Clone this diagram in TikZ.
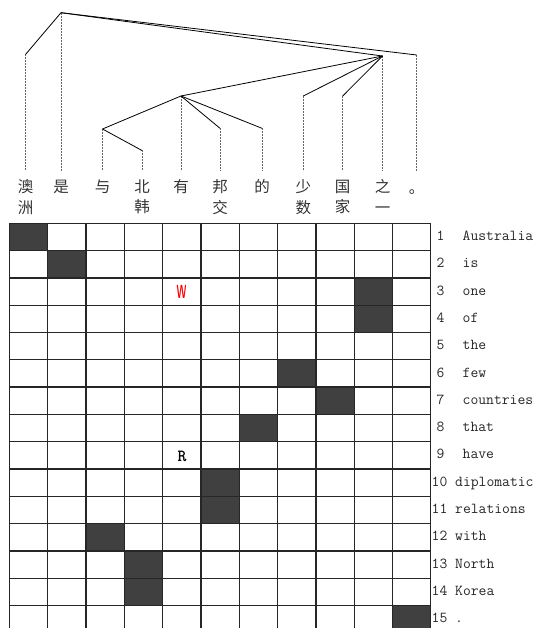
\documentclass[tikz,border=0pt]{standalone}
\usepackage{fontspec}
\newfontfamily\cjk{Noto Sans CJK SC}
\begin{document}
\begin{tikzpicture}[x=1pt, y=-1pt,
    tie/.style={black, line width=0.8pt},
    lead/.style={black!60, line width=0.8pt, dash pattern=on 2pt off 1pt},
    hanzi/.style={anchor=north, inner sep=0pt, align=center, text=black!80,
                  font=\cjk\fontsize{15.5}{20.3}\selectfont},
    rule/.style={black!85, line width=1.3pt},
    dark/.style={fill=black!75, minimum width=38.3pt, minimum height=27.3pt,
                 inner sep=0pt},
    lbl/.style={anchor=base west, inner sep=0pt, text=black!85,
                font=\ttfamily\fontsize{15.2}{18}\selectfont},
    letter/.style={inner sep=0pt}
]
\clip (0,0) rectangle (544,628);

\foreach \n/\x/\y/\w in {ao/25.5/54.5/澳\\洲, shi/61/12.7/是, yu/102.5/129/与,
    bei/142/150.5/北\\韩, you/181/96/有, bang/220/128.3/邦\\交, de/262/128.3/的,
    shao/303.3/96/少\\数, guo/342.7/96/国\\家, zhi/382.5/56/之\\一}{
  \coordinate (t-\n) at (\x,\y);
  \coordinate (b-\n) at (\x,171);
  \draw[lead] (t-\n) -- (b-\n);
  \node[hanzi] (w-\n) at (\x,179.5) {\w};
}
\coordinate (t-ju) at (416.7,55);
\coordinate (b-ju) at (416.7,171);
\draw[lead] (t-ju) -- (b-ju);
\node[hanzi] (w-ju) at (416.7,190) {。};

\draw[tie] (t-ao) -- (t-shi) -- (t-ju);
\draw[tie] (t-shi) -- (t-zhi);
\foreach \k in {you, shao, guo} \draw[tie] (t-zhi) -- (t-\k);
\foreach \k in {yu, bang, de} \draw[tie] (t-you) -- (t-\k);
\draw[tie] (t-yu) -- (t-bei);

\foreach \r/\c in {1/1, 2/2, 3/10, 4/10, 6/8, 7/9, 8/7, 10/6, 11/6,
                   12/3, 13/4, 14/4, 15/11}
  \node[dark] (s-\r-\c) at ({9.5+38.3*(\c-0.5)},{223.3+27.3*(\r-0.5)}) {};
\foreach \c in {0,...,11}
  \draw[rule] ({9.5+38.3*\c},223.3) -- ({9.5+38.3*\c},632.8);
\foreach \r in {0,...,15}
  \draw[rule] (9.5,{223.3+27.3*\r}) -- (430.8,{223.3+27.3*\r});

\node[letter, text=red, font=\sffamily\bfseries\fontsize{19}{20}\selectfont,
      xscale=0.5] (w-letter) at (181.5,291.6) {W};
\node[letter, font=\ttfamily\bfseries\fontsize{17}{18}\selectfont] (r-letter)
      at (182,456.5) {R};

\foreach \r/\w in {1/Australia, 2/is, 3/one, 4/of, 5/the, 6/few, 7/countries,
    8/that, 9/have, 10/diplomatic, 11/relations, 12/with, 13/North,
    14/Korea, 15/.}{
  \pgfmathsetmacro\nx{\r<10 ? 436.5 : 431.5}
  \pgfmathsetmacro\wx{\r<10 ? 462.5 : 455}
  \node[lbl] (n-\r) at (\nx,{223.3+27.3*(\r-0.5)+3.6}) {\r};
  \node[lbl] (e-\r) at (\wx,{223.3+27.3*(\r-0.5)+3.6}) {\w};
}
\end{tikzpicture}
\end{document}
